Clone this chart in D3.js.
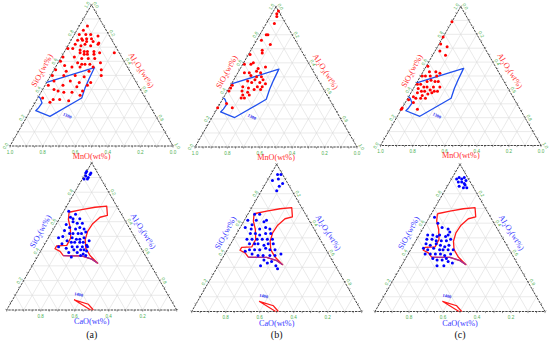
<!DOCTYPE html>
<html>
<head>
<meta charset="utf-8">
<script src="https://cdn.jsdelivr.net/npm/d3@7"></script>
<style>
  body { margin: 0; background: #fff; }
  svg text { font-family: "Liberation Serif", "DejaVu Serif", serif; }
</style>
</head>
<body>
<svg id="chart" width="550" height="347"></svg>
<script>
// every point is [SiO2, Al2O3]; the third oxide (MnO on top row, CaO below) is the rest
var mnoPointsA = [[0.85,0.05],[0.82,0.04],[0.79,0.03],[0.79,0.07],[0.79,0.10],[0.78,0.15],[0.76,0.06],[0.76,0.09],[0.76,0.12],[0.75,0.04],[0.75,0.07],[0.74,0.10],[0.74,0.14],[0.73,0.18],[0.72,0.04],[0.71,0.08],[0.72,0.10],[0.71,0.14],[0.72,0.18],[0.69,0.01],[0.69,0.04],[0.68,0.09],[0.67,0.12],[0.67,0.14],[0.67,0.18],[0.66,0.22],[0.66,0.10],[0.65,0.13],[0.65,0.15],[0.65,0.19],[0.66,0.31],[0.63,0.01],[0.63,0.08],[0.62,0.13],[0.62,0.17],[0.62,0.21],[0.60,0.01],[0.59,0.12],[0.58,0.15],[0.58,0.17],[0.58,0.20],[0.59,0.26],[0.57,0.05],[0.56,0.10],[0.56,0.15],[0.56,0.23],[0.54,0.29],[0.54,0.01],[0.53,0.08],[0.53,0.22],[0.50,0.01],[0.50,0.08],[0.50,0.15],[0.49,0.21],[0.50,0.31],[0.46,0.04],[0.46,0.14],[0.45,0.20],[0.45,0.27],[0.43,0.02],[0.43,0.11],[0.42,0.20],[0.43,0.26],[0.40,0.07],[0.39,0.10],[0.39,0.25],[0.38,0.14],[0.38,0.19],[0.34,0.03],[0.33,0.10],[0.33,0.14],[0.36,0.25],[0.32,0.20],[0.31,0.09]];
var mnoPointsB = [[0.97,0.03],[0.95,0.03],[0.93,0.04],[0.88,0.05],[0.80,0.05],[0.80,0.04],[0.76,0.03],[0.73,0.10],[0.69,0.07],[0.67,0.08],[0.66,0.01],[0.60,0.06],[0.59,0.01],[0.59,0.05],[0.57,0.15],[0.56,0.11],[0.53,0.04],[0.53,0.07],[0.53,0.14],[0.50,0.13],[0.51,0.09],[0.48,0.13],[0.50,0.16],[0.48,0.18],[0.46,0.12],[0.47,0.09],[0.46,0.17],[0.45,0.21],[0.44,0.01],[0.42,0.01],[0.40,0.01],[0.43,0.08],[0.42,0.12],[0.43,0.17],[0.43,0.20],[0.40,0.09],[0.39,0.13],[0.41,0.16],[0.41,0.20],[0.35,0.11],[0.35,0.13],[0.37,0.11],[0.37,0.15],[0.31,0.04],[0.28,0.00],[0.28,0.09],[0.54,0.11]];
var mnoPointsC = [[0.89,0.00],[0.78,0.00],[0.73,0.01],[0.71,0.06],[0.68,0.03],[0.65,0.08],[0.57,0.01],[0.50,0.01],[0.50,0.06],[0.53,0.08],[0.52,0.11],[0.46,0.06],[0.47,0.08],[0.46,0.11],[0.46,0.13],[0.44,0.03],[0.42,0.06],[0.42,0.08],[0.42,0.12],[0.42,0.16],[0.41,0.03],[0.39,0.06],[0.39,0.08],[0.40,0.11],[0.39,0.14],[0.39,0.16],[0.38,0.04],[0.36,0.08],[0.37,0.11],[0.38,0.13],[0.35,0.03],[0.34,0.08],[0.34,0.11],[0.33,0.01],[0.34,0.05],[0.27,0.00],[0.26,0.00],[0.26,0.10],[0.31,0.05],[0.50,0.03],[0.44,0.01],[0.50,0.10],[0.53,0.04]];

var caoPointsA = [[0.93,0.00],[0.94,0.00],[0.93,0.03],[0.91,0.01],[0.90,0.03],[0.89,0.01],[0.89,0.03],[0.92,0.03],[0.67,0.03],[0.63,0.06],[0.65,0.08],[0.62,0.12],[0.60,0.09],[0.59,0.12],[0.59,0.15],[0.56,0.09],[0.55,0.13],[0.56,0.15],[0.55,0.18],[0.54,0.07],[0.52,0.11],[0.52,0.13],[0.52,0.16],[0.52,0.18],[0.53,0.20],[0.49,0.06],[0.50,0.08],[0.49,0.14],[0.48,0.17],[0.48,0.19],[0.49,0.21],[0.47,0.12],[0.46,0.15],[0.46,0.17],[0.46,0.20],[0.46,0.22],[0.47,0.25],[0.45,0.10],[0.43,0.17],[0.43,0.20],[0.43,0.23],[0.44,0.25],[0.42,0.14],[0.41,0.19],[0.41,0.23],[0.41,0.25],[0.43,0.26],[0.39,0.17],[0.39,0.22],[0.38,0.26],[0.40,0.27],[0.36,0.20],[0.37,0.25],[0.37,0.28],[0.43,0.09],[0.58,0.06],[0.62,0.08]];
var caoPointsB = [[0.93,0.04],[0.93,0.06],[0.90,0.06],[0.87,0.10],[0.89,0.03],[0.82,0.09],[0.85,0.09],[0.66,0.04],[0.66,0.07],[0.62,0.02],[0.59,0.06],[0.62,0.07],[0.61,0.12],[0.62,0.13],[0.57,0.03],[0.56,0.07],[0.56,0.12],[0.57,0.15],[0.56,0.18],[0.53,0.08],[0.53,0.11],[0.52,0.14],[0.53,0.17],[0.53,0.20],[0.49,0.08],[0.49,0.11],[0.49,0.14],[0.49,0.17],[0.49,0.20],[0.49,0.23],[0.46,0.11],[0.46,0.14],[0.46,0.16],[0.45,0.20],[0.46,0.22],[0.46,0.25],[0.42,0.13],[0.42,0.16],[0.42,0.19],[0.43,0.22],[0.42,0.25],[0.42,0.28],[0.41,0.11],[0.39,0.16],[0.38,0.20],[0.38,0.23],[0.38,0.27],[0.38,0.30],[0.39,0.33],[0.31,0.25],[0.33,0.28],[0.31,0.34],[0.29,0.36],[0.34,0.30],[0.35,0.25]];
var caoPointsC = [[0.90,0.03],[0.91,0.04],[0.90,0.06],[0.91,0.07],[0.89,0.09],[0.88,0.05],[0.88,0.07],[0.87,0.09],[0.86,0.10],[0.85,0.07],[0.84,0.10],[0.84,0.12],[0.64,0.03],[0.60,0.07],[0.57,0.11],[0.56,0.15],[0.54,0.17],[0.52,0.05],[0.52,0.08],[0.51,0.11],[0.52,0.12],[0.51,0.16],[0.52,0.17],[0.49,0.06],[0.49,0.09],[0.48,0.12],[0.48,0.15],[0.48,0.18],[0.49,0.20],[0.46,0.07],[0.45,0.10],[0.46,0.13],[0.45,0.16],[0.44,0.19],[0.45,0.21],[0.43,0.07],[0.42,0.10],[0.43,0.13],[0.42,0.17],[0.42,0.19],[0.42,0.22],[0.42,0.25],[0.39,0.10],[0.39,0.13],[0.39,0.16],[0.39,0.19],[0.38,0.22],[0.39,0.25],[0.36,0.16],[0.35,0.19],[0.35,0.22],[0.36,0.24],[0.34,0.26],[0.31,0.21],[0.31,0.25],[0.33,0.29]];

// 1300 line in the MnO system
var mnoRegion = [[0.35,0.00],[0.34,0.015],[0.305,0.044],[0.27,0.04],[0.25,0.033],[0.21,0.14],[0.34,0.27],[0.41,0.255],[0.475,0.247],[0.555,0.24],[0.45,0.00]];
// liquid region in the CaO system
var caoRegion = [[0.664,0.035],[0.682,0.10],[0.698,0.171],[0.705,0.236],[0.643,0.271],[0.63,0.234],[0.586,0.213],[0.534,0.209],[0.477,0.223],[0.42,0.255],[0.37,0.305],[0.318,0.376],[0.345,0.328],[0.368,0.257],[0.368,0.198],[0.37,0.148],[0.398,0.115],[0.416,0.076],[0.436,0.076],[0.439,0.134],[0.489,0.132],[0.557,0.096],[0.614,0.056],[0.664,0.035]];
var caoRegionEdge = [[0.318,0.376],[0.345,0.328],[0.368,0.257],[0.368,0.198],[0.37,0.148]];
var caoWedge = [[0.00,0.494],[0.069,0.362],[0.039,0.461],[0.00,0.51]];

var regionLabelsTop = [{text: '1300', at: [0.205, 0.245]}];
var regionLabelsBottom = [{text: '1400', at: [0.095, 0.374]}];

var allTicks = [0, 0.2, 0.4, 0.6, 0.8, 1];
var innerTicks = [0.2, 0.4, 0.6, 0.8];
var gridSteps = d3.range(1, 10).map(function(k) { return k / 10; });
var panelNames = ['(a)', '(b)', '(c)'];

var svg = d3.select('#chart');
var SQ3 = Math.sqrt(3) / 2;
var fmt = d3.format('.1f');

var panels = [
  {left: 10, base: 146, width: 163, pts: mnoPointsA, top: true},
  {left: 195, base: 147, width: 162, pts: mnoPointsB, top: true},
  {left: 380.5, base: 145.5, width: 160.5, pts: mnoPointsC, top: true},
  {left: 6.7, base: 310, width: 170, pts: caoPointsA, top: false},
  {left: 191.7, base: 311.5, width: 170, pts: caoPointsB, top: false},
  {left: 375, base: 311.5, width: 170, pts: caoPointsC, top: false}
];

function sub(t, parts) {
  parts.forEach(function(p) {
    var s = t.append('tspan').text(p[0]);
    if (p[1]) s.attr('font-size', '0.7em').attr('dy', '0.25em');
    else if (p[2]) s.attr('dy', '-0.25em');
  });
}

function drawPanel(p, i) {
  var g = svg.append('g');
  var x = d3.scaleLinear().domain([0, 1]).range([p.left, p.left + p.width]);
  var y = d3.scaleLinear().domain([0, 1]).range([p.base, p.base - p.width * SQ3]);
  var px = function(d) { return x(d[1] + d[0] / 2); };
  var py = function(d) { return y(d[0]); };
  var line = d3.line().x(px).y(py);
  var ptColor = p.top ? '#ff0000' : '#0000ff';
  var titleColor = p.top ? '#ff3030' : '#3a3aff';
  var tickColor = '#4caf50';

  // grid
  var grid = [];
  gridSteps.forEach(function(k) {
    grid.push([[k, 0], [k, 1 - k]]);
    grid.push([[0, k], [1 - k, k]]);
    grid.push([[1 - k, 0], [0, 1 - k]]);
  });
  g.selectAll('.grid').data(grid).enter().append('path')
    .attr('d', line).attr('fill', 'none')
    .attr('stroke', '#dcdcdc').attr('stroke-width', 0.6);

  // frame
  g.append('path').attr('d', line([[1, 0], [0, 0], [0, 1], [1, 0]]))
    .attr('fill', 'none').attr('stroke', '#444').attr('stroke-width', 1)
    .attr('stroke-dasharray', '2.4,0.9');

  // small ticks on the frame
  var minor = d3.range(0, 1.0001, 0.05);
  var tk = [];
  minor.forEach(function(t) {
    tk.push({d: [t, 0], n: [-0.866, -0.5]});
    tk.push({d: [1 - t, t], n: [0.866, -0.5]});
    tk.push({d: [0, t], n: [0, 1]});
  });
  g.selectAll('.tk').data(tk).enter().append('line')
    .attr('x1', function(d) { return px(d.d); })
    .attr('y1', function(d) { return py(d.d); })
    .attr('x2', function(d) { return px(d.d) + d.n[0] * 1.6; })
    .attr('y2', function(d) { return py(d.d) + d.n[1] * 1.6; })
    .attr('stroke', '#555').attr('stroke-width', 0.6);

  // tick labels
  var vals = p.top ? allTicks : innerTicks;
  var lab = [];
  vals.forEach(function(t) {
    lab.push({v: t, d: [t, 0], n: [-1, 0], r: -60});
    lab.push({v: t, d: [1 - t, t], n: [1, 0], r: 60});
    lab.push({v: t, d: [0, 1 - t], n: [0, 1.35], r: 0});
  });
  g.selectAll('.tl').data(lab).enter().append('text')
    .attr('transform', function(d) {
      return 'translate(' + (px(d.d) + d.n[0] * 4.5) + ',' + (py(d.d) + d.n[1] * 4.5) + ') rotate(' + d.r + ')';
    })
    .attr('text-anchor', 'middle').attr('dy', '0.35em')
    .attr('font-size', 4.6).attr('fill', tickColor)
    .style('font-family', 'Liberation Sans, sans-serif')
    .text(function(d) { return fmt(d.v); });

  // phase regions
  if (p.top) {
    g.append('path').attr('d', line(mnoRegion)).attr('fill', 'none')
      .attr('stroke', '#2050ee').attr('stroke-width', 1.3).attr('stroke-linejoin', 'round');
    regionLabelsTop.forEach(function(l) {
      g.append('text').attr('transform', 'translate(' + px(l.at) + ',' + py(l.at) + ') rotate(25)')
        .attr('text-anchor', 'middle').attr('font-size', 4.5).attr('font-weight', 'bold')
        .attr('fill', '#2a2aee').text(l.text);
    });
  } else {
    g.append('path').attr('d', line(caoRegion)).attr('fill', 'none')
      .attr('stroke', '#ff1a1a').attr('stroke-width', 1.3).attr('stroke-linejoin', 'round');
    g.append('path').attr('d', line(caoRegionEdge)).attr('fill', 'none')
      .attr('stroke', '#a0309a').attr('stroke-width', 1.3);
    g.append('path').attr('d', line(caoWedge)).attr('fill', 'none')
      .attr('stroke', '#ff1a1a').attr('stroke-width', 1.2);
    regionLabelsBottom.forEach(function(l) {
      g.append('text').attr('transform', 'translate(' + px(l.at) + ',' + py(l.at) + ') rotate(10)')
        .attr('text-anchor', 'middle').attr('font-size', 4.5).attr('font-weight', 'bold')
        .attr('fill', '#2a2aee').text(l.text);
    });
  }

  // points
  g.selectAll('.pt').data(p.pts).enter().append('circle')
    .attr('cx', px).attr('cy', py).attr('r', 1.5).attr('fill', ptColor);

  // axis titles
  var midL = [0.5, 0], midR = [0.5, 0.5];
  var off = 10;
  var tl = g.append('text')
    .attr('transform', 'translate(' + (px(midL) - 0.866 * off) + ',' + (py(midL) - 0.5 * off) + ') rotate(-60)')
    .attr('text-anchor', 'middle').attr('dy', '0.35em').attr('font-size', 8.2).attr('fill', titleColor);
  sub(tl, [['SiO'], ['2', true], ['(wt%)', false, true]]);
  var tr = g.append('text')
    .attr('transform', 'translate(' + (px(midR) + 0.866 * off) + ',' + (py(midR) - 0.5 * off) + ') rotate(60)')
    .attr('text-anchor', 'middle').attr('dy', '0.35em').attr('font-size', 8.2).attr('fill', titleColor);
  sub(tr, [['Al'], ['2', true], ['O', false, true], ['3', true], ['(wt%)', false, true]]);
  g.append('text')
    .attr('x', x(0.5)).attr('y', p.base + (p.top ? 10 : 11.5))
    .attr('text-anchor', 'middle').attr('dy', '0.35em').attr('font-size', 8.2).attr('fill', titleColor)
    .text(p.top ? 'MnO(wt%)' : 'CaO(wt%)');

  if (!p.top) {
    svg.append('text').attr('x', x(0.5)).attr('y', 334.5)
      .attr('text-anchor', 'middle').attr('dy', '0.35em')
      .attr('font-size', 10).attr('fill', '#111')
      .text(panelNames[i - 3]);
  }
}

panels.forEach(drawPanel);
</script>
</body>
</html>
